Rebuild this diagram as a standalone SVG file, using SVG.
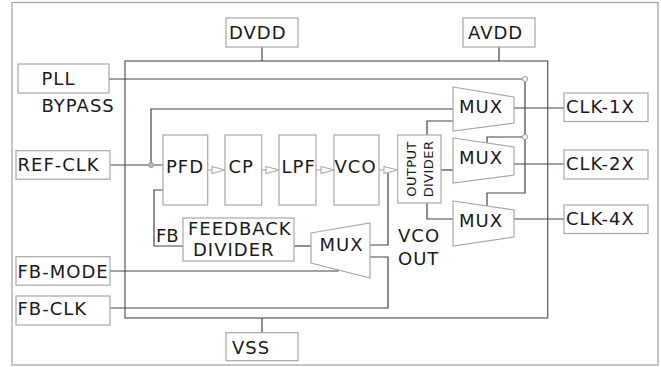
<svg xmlns="http://www.w3.org/2000/svg" width="661" height="367" viewBox="0 0 661 367">
<style>
text{font-family:"DejaVu Sans",Verdana,sans-serif;font-size:18px;fill:#1a1a1a;letter-spacing:1px}
.sm{font-size:13px;letter-spacing:0.4px}
.box{fill:#fff;stroke:#a8a8a8;stroke-width:1.2}
.mux{fill:#fff;stroke:#a8a8a8;stroke-width:1.2}
.ln{fill:none;stroke:#444;stroke-width:1.2}
.arr{fill:#fff;stroke:#aaa;stroke-width:1.1}
.dot{fill:#fff;stroke:#999;stroke-width:1}
</style>
<rect x="12" y="2.5" width="646" height="362.5" fill="#fff" stroke="#a0a0a0" stroke-width="1.2"/>
<rect id="chip" x="125" y="61" width="422.7" height="257" fill="none" stroke="#666" stroke-width="1.3"/>

<g id="connectors">
<path class="ln" d="M262 47V61"/>
<path class="ln" d="M499 47V61"/>
<path class="ln" d="M262 318V332.7"/>
<path class="ln" d="M109 79H522.5"/>
<path class="ln" d="M525 81.5V193H487V206"/>
<path class="ln" d="M487 143V137H522.5"/>
<path class="ln" d="M151 165V109H453"/>
<path class="ln" d="M110 165H163"/>
<path class="ln" d="M163 190H154V246H183"/>
<path class="ln" d="M294 246H311"/>
<path class="ln" d="M388 170V245H370"/>
<path class="ln" d="M110 308H388V257H370"/>
<path class="ln" d="M110 271H338V268"/>
<path class="ln" d="M427 135V121H453"/>
<path class="ln" d="M441 170H453"/>
<path class="ln" d="M427 203V219H453"/>
<path class="ln" d="M514 108H564"/>
<path class="ln" d="M514 164H564"/>
<path class="ln" d="M514 219H564"/>
<path class="arr" d="M207.7 170H212"/><polygon class="arr" points="212,166.5 225,170 212,173.5"/>
<path class="arr" d="M261.7 170H266"/><polygon class="arr" points="266,166.5 279,170 266,173.5"/>
<path class="arr" d="M316 170H321"/><polygon class="arr" points="321,166.5 334,170 321,173.5"/>
<path class="arr" d="M379 170H384"/><polygon class="arr" points="384,166.5 397.7,170 384,173.5"/>
<circle cx="151" cy="165" r="2.5" fill="#bbb" stroke="#999"/>
<circle class="dot" cx="525" cy="79" r="2.5"/>
<circle class="dot" cx="525" cy="137" r="2.5"/>
</g>

<g id="dvdd"><rect class="box" x="226" y="18" width="72" height="29"/><text x="229" y="38.5">DVDD</text></g>
<g id="avdd"><rect class="box" x="463" y="18" width="72" height="29"/><text x="468" y="38.5">AVDD</text></g>
<g id="vss"><rect class="box" x="226" y="332.7" width="72" height="28"/><text x="232" y="354">VSS</text></g>
<g id="pll-bypass"><rect class="box" x="18" y="64" width="91" height="29"/><text x="41.5" y="85">PLL</text><text x="41.5" y="111.5">BYPASS</text></g>
<g id="ref-clk"><rect class="box" x="16" y="150.7" width="94" height="28.5"/><text x="17.5" y="170.5">REF-CLK</text></g>
<g id="fb-mode"><rect class="box" x="16" y="256.7" width="94" height="28.5"/><text x="17.5" y="278.3">FB-MODE</text></g>
<g id="fb-clk"><rect class="box" x="16" y="296" width="94" height="29"/><text x="17.5" y="315">FB-CLK</text></g>
<g id="clk-1x"><rect class="box" x="564" y="93" width="84" height="28.5"/><text x="566" y="113.3">CLK-1X</text></g>
<g id="clk-2x"><rect class="box" x="564" y="150" width="84" height="29"/><text x="566" y="170">CLK-2X</text></g>
<g id="clk-4x"><rect class="box" x="564" y="205" width="84" height="28.5"/><text x="566" y="225">CLK-4X</text></g>

<g id="pfd"><rect class="box" x="163" y="135" width="44.7" height="70"/><text x="166" y="173">PFD</text></g>
<g id="cp"><rect class="box" x="225" y="135" width="36.7" height="70"/><text x="228.5" y="173">CP</text></g>
<g id="lpf"><rect class="box" x="279" y="135" width="37" height="70"/><text x="281.5" y="173">LPF</text></g>
<g id="vco"><rect class="box" x="334" y="135" width="45" height="70"/><text x="334.5" y="173">VCO</text></g>
<g id="output-divider"><rect class="box" x="397.7" y="135" width="43.3" height="68"/>
<text class="sm" transform="translate(415.5,169) rotate(-90)" text-anchor="middle">OUTPUT</text>
<text class="sm" transform="translate(433.3,169) rotate(-90)" text-anchor="middle">DIVIDER</text></g>

<g id="mux1"><polygon class="mux" points="453,87 514,97 514,123 453,131"/><text x="459" y="113.3">MUX</text></g>
<g id="mux2"><polygon class="mux" points="453,138 514,147 514,175 453,183"/><text x="459" y="164.3">MUX</text></g>
<g id="mux3"><polygon class="mux" points="453,201 514,210 514,237 453,246"/><text x="459" y="226.7">MUX</text></g>

<g id="feedback-divider"><rect class="box" x="183" y="218" width="111" height="43"/><text x="188" y="235">FEEDBACK</text><text x="193" y="255.7">DIVIDER</text></g>
<g id="fb-label"><text x="156" y="241.7" style="letter-spacing:0">FB</text></g>
<g id="fb-mux"><polygon class="mux" points="311,233 370,223 370,278 311,263"/><text x="319.5" y="251">MUX</text></g>
<g id="vco-out-label"><text x="398" y="241.7">VCO</text><text x="398" y="265">OUT</text></g>
</svg>
